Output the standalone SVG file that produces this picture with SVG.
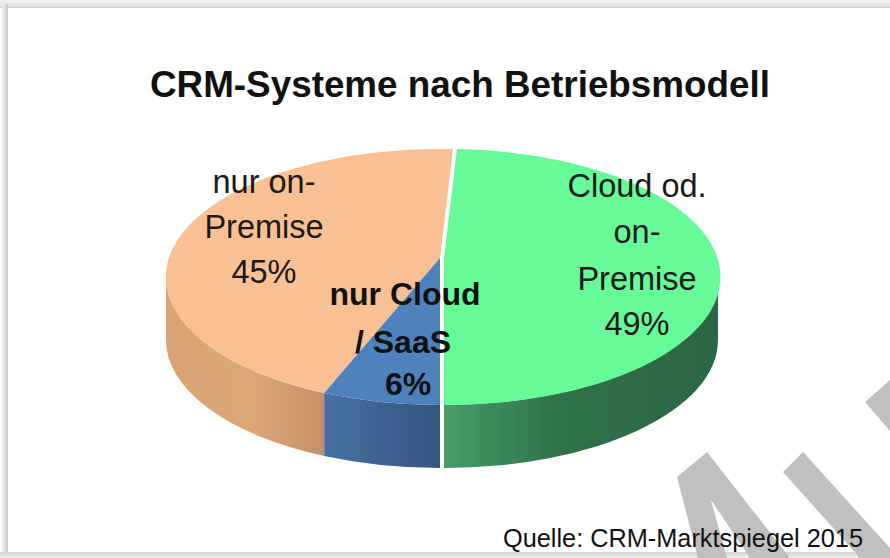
<svg xmlns="http://www.w3.org/2000/svg" width="890" height="558" viewBox="0 0 890 558">
  <defs>
    <linearGradient id="topg" x1="0" y1="0" x2="0" y2="1">
      <stop offset="0" stop-color="#f5f5f5"/>
      <stop offset="0.75" stop-color="#e6e6e6"/>
      <stop offset="1" stop-color="#cccccc"/>
    </linearGradient>
    <linearGradient id="leftg" x1="0" y1="0" x2="1" y2="0">
      <stop offset="0" stop-color="#f0f0f0"/>
      <stop offset="0.6" stop-color="#dcdcdc"/>
      <stop offset="1" stop-color="#c2c2c2"/>
    </linearGradient>
    <linearGradient id="botg" x1="0" y1="0" x2="0" y2="1">
      <stop offset="0" stop-color="#d2d2d2"/>
      <stop offset="1" stop-color="#f0f0f0"/>
    </linearGradient>
    <linearGradient id="greenSide" gradientUnits="userSpaceOnUse" x1="444" y1="0" x2="718" y2="0">
      <stop offset="0" stop-color="#479e67"/>
      <stop offset="0.4" stop-color="#30724a"/>
      <stop offset="1" stop-color="#2b6642"/>
    </linearGradient>
    <linearGradient id="blueSide" gradientUnits="userSpaceOnUse" x1="324" y1="0" x2="440" y2="0">
      <stop offset="0" stop-color="#4670a2"/>
      <stop offset="1" stop-color="#35567f"/>
    </linearGradient>
    <linearGradient id="orangeSide" gradientUnits="userSpaceOnUse" x1="166" y1="0" x2="324" y2="0">
      <stop offset="0" stop-color="#d9a375"/>
      <stop offset="0.55" stop-color="#dba87a"/>
      <stop offset="1" stop-color="#c49069"/>
    </linearGradient>
  </defs>
  <style>
    .lbl { font-family: "Liberation Sans", Arial, sans-serif; font-size: 32.5px; fill: #1a1a1a; text-anchor: middle; }
    .lblb { font-family: "Liberation Sans", Arial, sans-serif; font-size: 32px; font-weight: bold; fill: #111111; text-anchor: middle; }
    .title { font-family: "Liberation Sans", Arial, sans-serif; font-size: 36px; font-weight: bold; fill: #111111; text-anchor: middle; }
    .src { font-family: "Liberation Sans", Arial, sans-serif; font-size: 25.5px; fill: #111111; }
    .wm { fill: #bfbfbf; }
  </style>

  <!-- frame -->
  <rect x="0" y="0" width="890" height="558" fill="#ffffff"/>
  <rect x="0" y="0" width="890" height="8" fill="url(#topg)"/>
  <rect x="2" y="4" width="6" height="554" fill="url(#leftg)"/>
  <rect x="0" y="552" width="890" height="6" fill="url(#botg)"/>
  <rect x="8" y="8" width="882" height="544" fill="#ffffff"/>

  <!-- title -->
  <text class="title" x="460" y="97" textLength="620" lengthAdjust="spacingAndGlyphs">CRM-Systeme nach Betriebsmodell</text>

  <!-- pie slices -->
  <g id="slice-onpremise">
    <path d="M324.2 393 A274 128 0 0 1 166 277 L166 340 A274 128 0 0 0 324.2 456 Z" fill="url(#orangeSide)"/>
    <path d="M440 258 L453 149.1 A274 128 0 0 0 324.2 393 Z" fill="#f8c093"/>
    <text class="lbl" x="264" y="193">nur on-</text>
    <text class="lbl" x="264" y="238">Premise</text>
    <text class="lbl" x="264" y="283">45%</text>
  </g>
  <g id="slice-cloud">
    <path d="M324.2 393 A274 128 0 0 0 440 405 L440 468 A274 128 0 0 1 324.2 456 Z" fill="url(#blueSide)"/>
    <path d="M440 258 L324.2 393 A274 128 0 0 0 440 405 Z" fill="#4f81bd"/>
  </g>
  <g id="slice-hybrid">
    <path d="M718 277 A274 128 0 0 1 444 405 L444 468 A274 128 0 0 0 718 340 Z" fill="url(#greenSide)"/>
    <path d="M444 258 L457 149.1 A274 128 0 0 1 444 405 Z" fill="#66fa98"/>
    <text class="lbl" x="637" y="197">Cloud od.</text>
    <text class="lbl" x="637" y="243">on-</text>
    <text class="lbl" x="637" y="290">Premise</text>
    <text class="lbl" x="637" y="335">49%</text>
  </g>
  <g id="label-cloud">
    <text class="lblb" x="405" y="305">nur Cloud</text>
    <text class="lblb" x="403" y="353">/ SaaS</text>
    <text class="lblb" x="408" y="395">6%</text>
  </g>

  <g id="connectors"/>

  <!-- watermark strokes -->
  <g id="watermark">
    <polygon class="wm" points="677,477 707,452 790,558 750,558 711,500 727,558 698,558"/>
    <polygon class="wm" points="783,472 803,452 890,548 890,558 860,558"/>
    <polygon class="wm" points="865,402 890,380 890,431"/>
  </g>

  <!-- source -->
  <text class="src" x="503" y="547" textLength="360" lengthAdjust="spacingAndGlyphs">Quelle: CRM-Marktspiegel 2015</text>
</svg>
